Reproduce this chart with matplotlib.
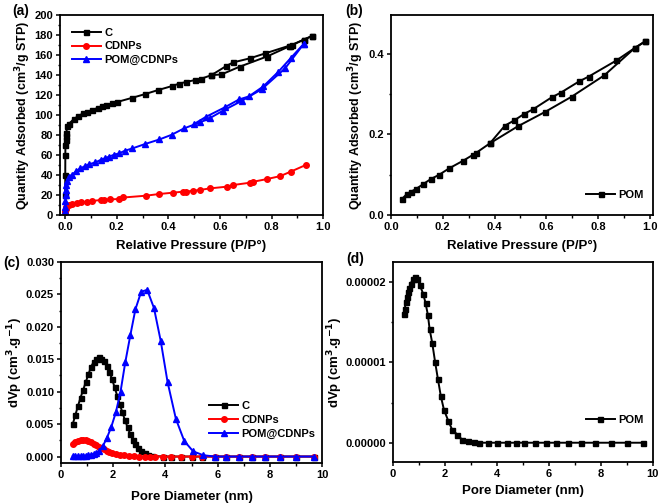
import matplotlib
matplotlib.use("Agg")
import matplotlib.pyplot as plt
from matplotlib.ticker import MultipleLocator, FormatStrFormatter

plt.rcParams['font.family'] = ['Liberation Sans', 'DejaVu Sans']
plt.rcParams['font.weight'] = 'bold'
plt.rcParams['axes.labelweight'] = 'bold'
plt.rcParams['mathtext.default'] = 'bf'

# ---------------- (a) isotherms ----------------
c_ads_x = [0.0001, 0.0003, 0.0006, 0.001, 0.002, 0.003, 0.005, 0.007, 0.013, 0.033, 0.05, 0.069,
           0.085, 0.104, 0.128, 0.143, 0.160, 0.183, 0.202, 0.258, 0.309, 0.359, 0.413, 0.443,
           0.469, 0.502, 0.525, 0.567, 0.606, 0.677, 0.781, 0.870, 0.926, 0.958]
c_ads_y = [20, 40, 60, 70, 75, 79, 82, 88.8, 90.8, 95.8, 98.8, 101.5,
           103, 104.8, 107.2, 108.8, 109.8, 111.5, 113, 117, 120.8, 124.8, 128.8, 131.4,
           133, 134.8, 136, 139.8, 140.5, 148.3, 158.3, 168.7, 175.4, 179]
c_des_x = [0.958, 0.926, 0.879, 0.866, 0.775, 0.716, 0.651, 0.625, 0.567]
c_des_y = [179, 175.4, 170, 169, 161.5, 156.6, 152.5, 149, 139.8]

cd_x = [0.0005, 0.001, 0.002, 0.003, 0.005, 0.013, 0.026, 0.046, 0.063, 0.085, 0.104, 0.137, 0.15,
        0.173, 0.209, 0.226, 0.313, 0.365, 0.417, 0.456, 0.469, 0.495, 0.522, 0.561, 0.626,
        0.652, 0.717, 0.73, 0.782, 0.834, 0.874, 0.932]
cd_y = [3, 4.5, 6, 7, 8.5, 10, 11, 11.6, 12.6, 13.3, 14, 15, 15,
        15.6, 16, 17.5, 19.3, 21, 22.3, 23.3, 23.3, 24.3, 25, 26.6, 28.3,
        30, 32.3, 33.3, 35.9, 38.9, 43.3, 49.9]

pc_ads_x = [0.0002, 0.0005, 0.001, 0.002, 0.003, 0.005, 0.008, 0.013, 0.026, 0.043, 0.059, 0.078,
            0.091, 0.117, 0.137, 0.153, 0.169, 0.189, 0.209, 0.231, 0.261, 0.309, 0.365, 0.413,
            0.46, 0.522, 0.56, 0.612, 0.684, 0.762, 0.853, 0.926]
pc_ads_y = [4, 8, 14, 20, 25, 30, 34, 38.3, 40, 44, 46.6, 49,
            50.6, 52.6, 55, 56.6, 58.2, 60.2, 61.6, 64.2, 66.6, 70.9, 75.5, 80.2,
            86.5, 92.5, 96.7, 104.3, 114, 125.7, 146.7, 171.4]
pc_des_x = [0.926, 0.875, 0.827, 0.768, 0.712, 0.674, 0.618, 0.547, 0.5]
pc_des_y = [171.4, 157, 143.3, 128.5, 118.5, 115.5, 107.5, 98.3, 91]

# ---------------- (b) POM isotherm ----------------
pom_ads_x = [0.041, 0.061, 0.077, 0.095, 0.125, 0.153, 0.185, 0.225, 0.279, 0.318, 0.328, 0.382,
             0.489, 0.595, 0.698, 0.824, 0.942, 0.981]
pom_ads_y = [0.039, 0.052, 0.058, 0.064, 0.077, 0.089, 0.0996, 0.116, 0.135, 0.150, 0.154, 0.178,
             0.220, 0.256, 0.294, 0.347, 0.415, 0.431]
pom_des_x = [0.981, 0.942, 0.871, 0.764, 0.727, 0.656, 0.62, 0.55, 0.514, 0.476, 0.44, 0.382]
pom_des_y = [0.431, 0.415, 0.384, 0.344, 0.332, 0.304, 0.292, 0.263, 0.251, 0.235, 0.222, 0.178]

# ---------------- (c) pore size distributions ----------------
psd_c_x = [0.45, 0.55, 0.65, 0.75, 0.85, 0.95, 1.05, 1.15, 1.25, 1.35, 1.45, 1.55, 1.65, 1.75, 1.85,
           1.95, 2.05, 2.15, 2.25, 2.35, 2.45, 2.55, 2.65, 2.75, 2.85, 2.95, 3.05, 3.2, 3.35, 3.5,
           3.9, 4.2, 4.6, 5.0, 5.4, 5.9, 6.3, 6.8, 7.3, 7.8, 8.4, 9.0, 9.7]
psd_c_y = [0.0050, 0.0064, 0.0078, 0.0091, 0.0103, 0.0115, 0.0127, 0.0138, 0.0146, 0.0151, 0.0153,
           0.0151, 0.0147, 0.0140, 0.0131, 0.0120, 0.0107, 0.0094, 0.0081, 0.0068, 0.0056, 0.0045,
           0.0035, 0.0026, 0.0019, 0.0013, 0.0009, 0.0005, 0.0002, 0.0001,
           0, 0, 0, 0, 0, 0, 0, 0, 0, 0, 0, 0, 0]
psd_cd_x = [0.45, 0.55, 0.65, 0.75, 0.85, 0.95, 1.05, 1.15, 1.25, 1.35, 1.45, 1.55, 1.65, 1.75, 1.85,
            1.95, 2.1, 2.25, 2.4, 2.6, 2.8, 3.0, 3.2, 3.4, 3.6, 3.9, 4.2, 4.6, 5.0, 5.4, 5.9, 6.3,
            6.8, 7.3, 7.8, 8.4, 9.0, 9.7]
psd_cd_y = [0.0019, 0.0022, 0.0024, 0.0025, 0.0025, 0.0025, 0.0024, 0.0022, 0.0020, 0.0018, 0.0015,
            0.0013, 0.0011, 0.0009, 0.0007, 0.0005, 0.0004, 0.0003, 0.0002, 0.0001, 0.00005, 0,
            0, 0, 0, 0, 0, 0, 0, 0, 0, 0, 0, 0, 0, 0, 0, 0]
psd_pc_x = [0.45, 0.55, 0.65, 0.75, 0.85, 0.95, 1.05, 1.15, 1.25, 1.35, 1.45, 1.6, 1.75, 1.92, 2.1,
            2.28, 2.46, 2.66, 2.85, 3.07, 3.3, 3.56, 3.82, 4.08, 4.4, 4.72, 5.06, 5.45, 5.9, 6.3,
            6.8, 7.3, 7.8, 8.4, 9.0, 9.7]
psd_pc_y = [0.0001, 0.0001, 0.0001, 0.0001, 0.00012, 0.00015, 0.0002, 0.0003, 0.0004, 0.0006, 0.0008,
            0.0016, 0.0028, 0.0045, 0.0068, 0.0100, 0.0145, 0.0188, 0.0227, 0.0254, 0.0257, 0.0229,
            0.0178, 0.0115, 0.0058, 0.0024, 0.0008, 0.0002, 0, 0, 0, 0, 0, 0, 0, 0]

# ---------------- (d) POM pore size distribution ----------------
psd_pom_x = [0.41, 0.45, 0.5, 0.54, 0.58, 0.63, 0.68, 0.76, 0.84, 0.93, 1.03, 1.16, 1.25, 1.34, 1.41,
             1.51, 1.62, 1.73, 1.84, 1.96, 2.13, 2.28, 2.48, 2.65, 2.87, 3.1, 3.3, 3.64, 4.0, 4.4,
             4.74, 5.06, 5.45, 5.87, 6.28, 6.74, 7.25, 7.79, 8.39, 8.99, 9.64]
psd_pom_y = [1.606e-5, 1.668e-5, 1.751e-5, 1.813e-5, 1.875e-5, 1.93e-5, 1.98e-5, 2.033e-5, 2.062e-5,
             2.04e-5, 1.96e-5, 1.855e-5, 1.74e-5, 1.594e-5, 1.41e-5, 1.24e-5, 1.004e-5, 0.788e-5,
             0.58e-5, 0.41e-5, 0.27e-5, 0.16e-5, 0.10e-5, 0.04e-5, 0.016e-5, 0.004e-5, 0, 0, 0, 0,
             0, 0, 0, 0, 0, 0, 0, 0, 0, 0, 0]

FS_T = 8
FS_L = 9.5
FS_Y = 9
LW = 1.4
MS = 4

fig = plt.figure(figsize=(6.61, 5.04), dpi=100)
axa = fig.add_axes([0.0908, 0.5734, 0.398, 0.397])
axb = fig.add_axes([0.5915, 0.5734, 0.3964, 0.397])
axc = fig.add_axes([0.0923, 0.0813, 0.395, 0.399])
axd = fig.add_axes([0.5946, 0.0833, 0.393, 0.397])


def style(ax):
    for s in ax.spines.values():
        s.set_linewidth(1.3)
    ax.tick_params(which='major', direction='out', length=3, width=1.1, pad=2, labelsize=FS_T,
                   top=False, right=False)
    ax.tick_params(which='minor', direction='out', length=1.8, width=1.0, top=False, right=False)
    for lab in ax.get_xticklabels() + ax.get_yticklabels():
        lab.set_fontweight('bold')


leg_kw = dict(frameon=False, handlelength=2.6, handletextpad=0.3, labelspacing=0.35,
              borderaxespad=0.2, prop={'weight': 'bold', 'size': FS_T})

# (a)
axa.plot(c_ads_x, c_ads_y, '-s', color='black', lw=LW, ms=MS * 0.9, label='C')
axa.plot(c_des_x, c_des_y, '-s', color='black', lw=LW, ms=MS * 0.9)
axa.plot(cd_x, cd_y, '-o', color='#ff0000', lw=LW, ms=MS, label='CDNPs')
axa.plot(pc_ads_x, pc_ads_y, '-^', color='#0000ff', lw=LW, ms=MS, label='POM@CDNPs')
axa.plot(pc_des_x, pc_des_y, '-^', color='#0000ff', lw=LW, ms=MS)
axa.set_xlim(-0.02, 1.0)
axa.set_ylim(0, 200)
axa.xaxis.set_major_locator(MultipleLocator(0.2))
axa.xaxis.set_minor_locator(MultipleLocator(0.1))
axa.yaxis.set_major_locator(MultipleLocator(20))
axa.yaxis.set_minor_locator(MultipleLocator(10))
axa.xaxis.set_major_formatter(FormatStrFormatter('%.1f'))
axa.set_xlabel('Relative Pressure (P/P°)', fontsize=FS_L, fontweight='bold', labelpad=6)
axa.set_ylabel('Quantity Adsorbed (cm$^3$/g STP)', fontsize=FS_Y, fontweight='bold', labelpad=1)
axa.legend(loc='upper left', bbox_to_anchor=(0.02, 0.97), **leg_kw)
style(axa)

# (b)
axb.plot(pom_ads_x, pom_ads_y, '-s', color='black', lw=LW, ms=MS * 0.9, label='POM')
axb.plot(pom_des_x, pom_des_y, '-s', color='black', lw=LW, ms=MS * 0.9)
axb.set_xlim(0, 1.012)
axb.set_ylim(0, 0.497)
axb.xaxis.set_major_locator(MultipleLocator(0.2))
axb.xaxis.set_minor_locator(MultipleLocator(0.1))
axb.yaxis.set_major_locator(MultipleLocator(0.2))
axb.yaxis.set_minor_locator(MultipleLocator(0.1))
axb.xaxis.set_major_formatter(FormatStrFormatter('%.1f'))
axb.yaxis.set_major_formatter(FormatStrFormatter('%.1f'))
axb.set_xlabel('Relative Pressure (P/P°)', fontsize=FS_L, fontweight='bold', labelpad=6)
axb.set_ylabel('Quantity Adsorbed (cm$^3$/g STP)', fontsize=FS_Y, fontweight='bold', labelpad=1.5)
axb.legend(loc='lower right', bbox_to_anchor=(0.99, 0.04), **leg_kw)
style(axb)

# (c)
axc.plot(psd_c_x, psd_c_y, '-s', color='black', lw=LW, ms=MS * 0.9, label='C')
axc.plot(psd_cd_x, psd_cd_y, '-o', color='#ff0000', lw=LW, ms=MS, label='CDNPs')
axc.plot(psd_pc_x, psd_pc_y, '-^', color='#0000ff', lw=LW, ms=MS, label='POM@CDNPs')
axc.set_xlim(0, 10)
axc.set_ylim(-0.001, 0.030)
axc.xaxis.set_major_locator(MultipleLocator(2))
axc.xaxis.set_minor_locator(MultipleLocator(1))
axc.yaxis.set_major_locator(MultipleLocator(0.005))
axc.yaxis.set_minor_locator(MultipleLocator(0.0025))
axc.yaxis.set_major_formatter(FormatStrFormatter('%.3f'))
axc.set_xlabel('Pore Diameter (nm)', fontsize=FS_L, fontweight='bold', labelpad=8)
axc.set_ylabel('dVp (cm$^3$.g$^{-1}$)', fontsize=FS_L, fontweight='bold', labelpad=1)
axc.legend(loc='lower right', bbox_to_anchor=(1.0, 0.085), **leg_kw)
style(axc)

# (d)
axd.plot(psd_pom_x, psd_pom_y, '-s', color='black', lw=LW, ms=MS * 0.9, label='POM')
axd.set_xlim(0, 10)
axd.set_ylim(-2.4e-6, 2.25e-5)
axd.xaxis.set_major_locator(MultipleLocator(2))
axd.xaxis.set_minor_locator(MultipleLocator(1))
axd.yaxis.set_major_locator(MultipleLocator(1e-5))
axd.yaxis.set_minor_locator(MultipleLocator(0.5e-5))
axd.yaxis.set_major_formatter(FormatStrFormatter('%.5f'))
axd.set_xlabel('Pore Diameter (nm)', fontsize=FS_L, fontweight='bold', labelpad=4)
axd.set_ylabel('dVp (cm$^3$.g$^{-1}$)', fontsize=FS_L, fontweight='bold', labelpad=0)
axd.legend(loc='lower right', bbox_to_anchor=(0.99, 0.15), **leg_kw)
style(axd)

# panel labels
fig.text(12 / 661, 1 - 11 / 504, '(a)', fontsize=FS_L + 0.5, fontweight='bold', ha='left', va='center')
fig.text(345 / 661, 1 - 11 / 504, '(b)', fontsize=FS_L + 0.5, fontweight='bold', ha='left', va='center')
fig.text(3 / 661, 1 - 263 / 504, '(c)', fontsize=FS_L + 0.5, fontweight='bold', ha='left', va='center')
fig.text(346 / 661, 1 - 259 / 504, '(d)', fontsize=FS_L + 0.5, fontweight='bold', ha='left', va='center')

fig.savefig('out.png', dpi=100)
